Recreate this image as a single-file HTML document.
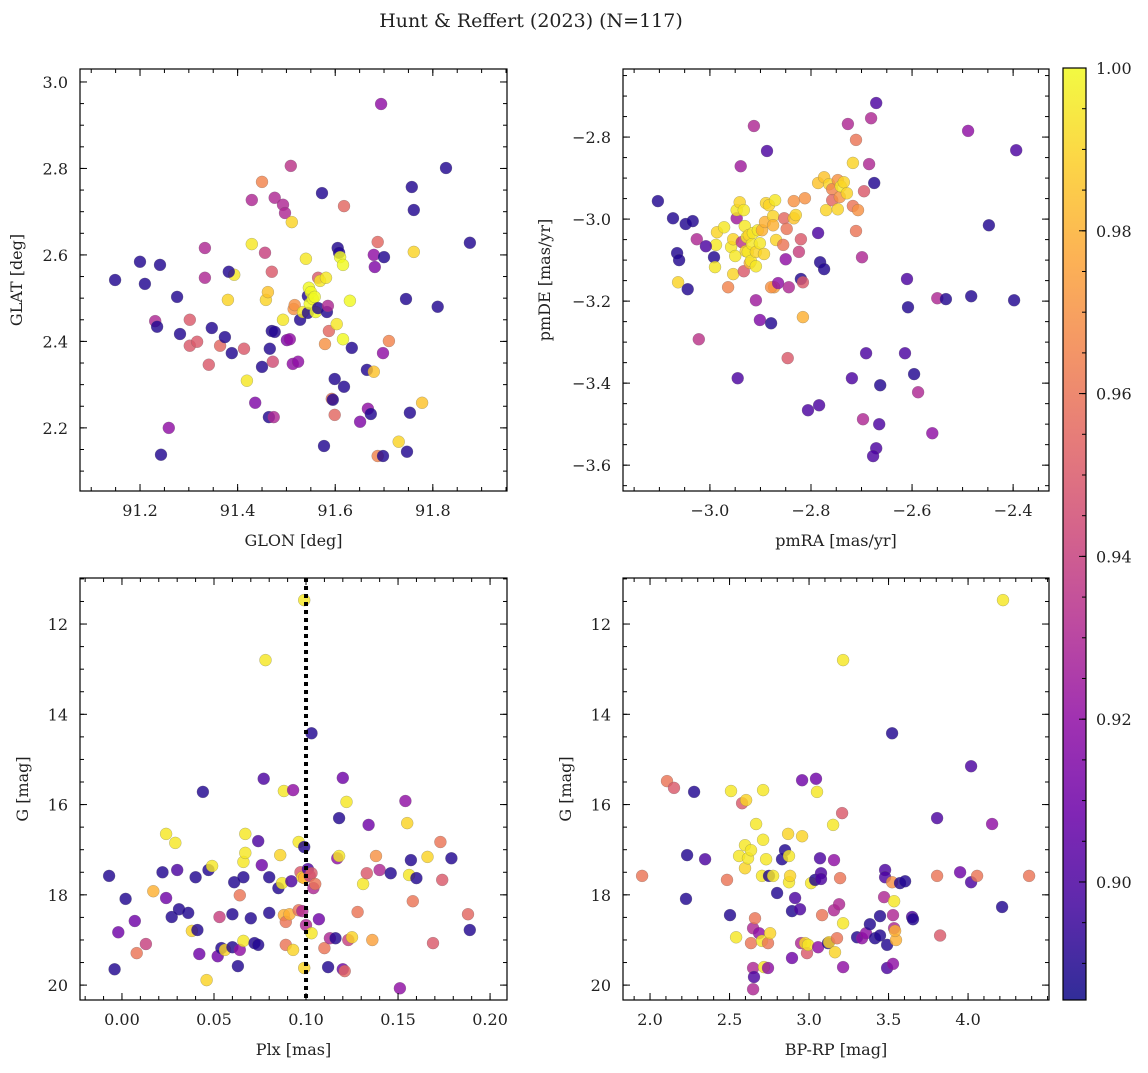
<!DOCTYPE html>
<html><head><meta charset="utf-8"><style>
body{margin:0;background:#fff;}
svg text{font-family:"DejaVu Serif","Liberation Serif",serif;fill:#222;}
</style></head><body>
<svg id="fig" width="1148" height="1068" viewBox="0 0 1148 1068">
<text x="531" y="27" text-anchor="middle" font-size="19">Hunt &amp; Reffert (2023) (N=117)</text>
</svg>
<script>
// ---- Panel 1: GLON / GLAT ----
const glonA=[91.149,91.200,91.210,91.241,91.231,91.235,91.243,91.259,91.276,91.282,91.302,91.302,91.317,91.333,91.333,91.341,91.347,91.364,91.374,91.380,91.388,91.393,91.382,91.413,91.419,91.429,91.429,91.436,91.450,91.450,91.456,91.458,91.462,91.464,91.466,91.470,91.470,91.472,91.474,91.476,91.476,91.493,91.497,91.493,91.501,91.507,91.509,91.511,91.513,91.515,91.517,91.524,91.528,91.534,91.540,91.544,91.544,91.546,91.548,91.550,91.554,91.558,91.560,91.565,91.565,91.569,91.573,91.577,91.579,91.581,91.583,91.585,91.587,91.593,91.595,91.599,91.599,91.603,91.605,91.608,91.610,91.616,91.616,91.618,91.618,91.630,91.634,91.651,91.665,91.667,91.673,91.679,91.681,91.679,91.687,91.687,91.698,91.698,91.700,91.694,91.710,91.730,91.745,91.753,91.747,91.757,91.761,91.778,91.761,91.810,91.827,91.876];
const glatA=[2.542,2.584,2.533,2.577,2.447,2.434,2.138,2.200,2.503,2.417,2.450,2.390,2.399,2.616,2.547,2.346,2.431,2.390,2.410,2.496,2.373,2.554,2.561,2.383,2.309,2.727,2.625,2.258,2.341,2.769,2.605,2.496,2.514,2.225,2.383,2.561,2.424,2.353,2.225,2.732,2.422,2.716,2.697,2.450,2.403,2.405,2.806,2.676,2.348,2.475,2.484,2.353,2.450,2.468,2.591,2.466,2.505,2.524,2.487,2.514,2.498,2.503,2.468,2.477,2.547,2.540,2.743,2.158,2.394,2.547,2.468,2.482,2.424,2.267,2.265,2.313,2.230,2.440,2.616,2.605,2.595,2.577,2.405,2.713,2.295,2.494,2.385,2.214,2.334,2.244,2.232,2.600,2.572,2.330,2.630,2.135,2.135,2.373,2.595,2.949,2.401,2.168,2.498,2.235,2.145,2.757,2.704,2.258,2.607,2.480,2.801,2.628];
const probA=[.89,.89,.89,.89,.93,.89,.89,.92,.89,.89,.95,.95,.95,.93,.93,.95,.89,.955,.89,.99,.89,.995,.89,.95,.995,.93,.995,.915,.89,.965,.94,.99,.985,.89,.89,.95,.89,.945,.93,.93,.89,.93,.93,.995,.915,.92,.935,.99,.92,.97,.97,.92,.89,.995,.995,.89,.89,1,1,1,1,1,1,.89,.95,.995,.89,.89,.97,.995,.89,.93,.955,.96,.89,.89,.955,.995,.89,.89,1,1,1,.955,.89,1,.89,.915,.89,.92,.89,.92,.915,.985,.955,.965,.89,.92,.89,.92,.965,.99,.89,.89,.89,.89,.89,.985,.99,.89,.89,.89];
// ---- Panel 2: pmRA / pmDE ----
const pmraB=[-3.103,-3.073,-3.048,-3.034,-3.065,-3.061,-3.063,-3.044,-3.026,-3.022,-2.992,-2.988,-3.008,-2.990,-2.986,-2.972,-2.964,-2.958,-2.954,-2.950,-2.954,-2.947,-2.947,-2.941,-2.939,-2.937,-2.933,-2.931,-2.945,-2.933,-2.929,-2.927,-2.925,-2.923,-2.921,-2.919,-2.917,-2.915,-2.909,-2.913,-2.909,-2.905,-2.909,-2.901,-2.897,-2.901,-2.893,-2.887,-2.889,-2.883,-2.891,-2.875,-2.873,-2.879,-2.879,-2.875,-2.869,-2.871,-2.865,-2.855,-2.853,-2.848,-2.850,-2.846,-2.844,-2.834,-2.834,-2.830,-2.824,-2.820,-2.820,-2.816,-2.816,-2.812,-2.806,-2.784,-2.786,-2.786,-2.782,-2.774,-2.774,-2.770,-2.764,-2.758,-2.758,-2.747,-2.747,-2.743,-2.741,-2.735,-2.729,-2.719,-2.717,-2.727,-2.717,-2.711,-2.711,-2.707,-2.699,-2.697,-2.695,-2.691,-2.685,-2.681,-2.675,-2.671,-2.671,-2.665,-2.663,-2.677,-2.614,-2.610,-2.608,-2.596,-2.588,-2.560,-2.550,-2.533,-2.489,-2.483,-2.448,-2.394,-2.398];
const pmdeB=[-2.956,-2.998,-3.012,-3.005,-3.083,-3.100,-3.154,-3.171,-3.049,-3.293,-3.093,-3.063,-3.066,-3.117,-3.032,-3.020,-3.166,-3.068,-3.049,-3.090,-3.134,-2.998,-2.978,-2.959,-2.871,-3.056,-2.978,-3.017,-3.388,-3.127,-3.078,-3.044,-3.080,-3.039,-3.107,-3.102,-3.061,-3.034,-3.115,-2.773,-3.080,-3.027,-3.198,-3.059,-3.027,-3.246,-3.085,-2.834,-2.961,-2.966,-3.007,-2.993,-3.166,-3.254,-3.166,-3.015,-3.051,-2.954,-3.156,-3.063,-2.998,-3.024,-3.098,-3.339,-3.166,-2.956,-2.998,-2.990,-3.080,-3.049,-3.146,-3.154,-3.239,-2.949,-3.466,-3.454,-2.912,-3.034,-3.105,-3.122,-2.898,-2.978,-2.915,-2.927,-2.954,-2.976,-2.905,-2.946,-2.920,-2.910,-2.937,-3.388,-2.968,-2.768,-2.863,-3.029,-2.807,-2.978,-3.093,-3.488,-2.932,-3.327,-2.866,-2.754,-2.912,-2.717,-3.559,-3.500,-3.405,-3.578,-3.327,-3.146,-3.215,-3.378,-3.422,-3.522,-3.193,-3.195,-2.785,-3.188,-3.015,-2.832,-3.198];
const probB=[.89,.89,.89,.89,.89,.89,.99,.89,.93,.935,.89,.995,.9,.995,.99,.995,.965,.995,.99,.995,.99,.925,.995,.99,.925,.935,.995,.995,.9,.95,.99,.995,.995,.99,.98,.995,.995,.995,.995,.93,.99,.995,.925,.995,.98,.915,.99,.9,.99,.99,.98,.99,.975,.89,.97,.98,.99,.995,.92,.96,.955,.96,.92,.95,.93,.97,.985,.99,.94,.95,.89,.95,.98,.97,.9,.9,.985,.9,.89,.89,.985,.99,.99,.965,.955,.99,.97,.97,.995,.99,.99,.9,.96,.93,.99,.96,.96,.97,.93,.93,.95,.9,.93,.93,.89,.9,.9,.9,.89,.9,.9,.9,.89,.89,.93,.92,.93,.89,.92,.89,.89,.9,.89];
// ---- Panel 3: Plx / G ----
const plxC=[-0.004,-0.007,-0.002,0.002,0.007,0.008,0.013,0.017,0.022,0.024,0.024,0.027,0.029,0.030,0.031,0.036,0.038,0.040,0.041,0.042,0.044,0.046,0.047,0.049,0.052,0.053,0.054,0.056,0.060,0.060,0.061,0.063,0.064,0.066,0.064,0.066,0.066,0.067,0.067,0.070,0.072,0.074,0.074,0.076,0.077,0.078,0.080,0.080,0.085,0.086,0.087,0.088,0.088,0.089,0.089,0.091,0.092,0.093,0.093,0.096,0.096,0.097,0.098,0.098,0.099,0.099,0.099,0.099,0.100,0.101,0.102,0.103,0.103,0.103,0.104,0.105,0.107,0.110,0.112,0.113,0.116,0.117,0.118,0.118,0.120,0.121,0.120,0.122,0.123,0.125,0.128,0.131,0.133,0.134,0.136,0.138,0.140,0.146,0.151,0.154,0.155,0.156,0.157,0.158,0.160,0.166,0.169,0.173,0.174,0.179,0.188,0.189];
const gC=[19.65,17.58,18.83,18.09,18.58,19.29,19.09,17.92,17.50,18.07,16.65,18.49,16.85,17.45,18.32,18.40,18.80,17.61,18.78,19.31,15.72,19.89,17.45,17.36,19.36,18.49,19.18,19.22,19.16,18.43,17.72,19.58,18.01,17.61,19.22,17.27,19.02,16.65,17.07,18.52,19.07,16.81,19.11,17.34,15.43,12.80,17.61,18.40,17.85,17.12,17.74,15.70,18.45,18.60,19.11,18.43,17.70,19.22,15.68,16.83,18.34,17.50,17.61,18.36,17.63,19.62,11.47,16.94,18.67,17.43,17.58,17.52,18.85,14.42,17.85,17.76,18.54,19.18,19.60,18.96,18.96,17.19,16.30,17.14,19.65,19.69,15.41,15.94,19.00,18.94,18.38,17.76,17.52,16.45,19.00,17.14,17.45,17.52,20.07,15.92,16.41,17.56,17.23,18.14,17.63,17.16,19.07,16.83,17.67,17.19,18.43,18.78];
const probC=[.89,.89,.91,.89,.91,.96,.94,.98,.89,.91,.995,.89,.995,.9,.89,.89,.99,.89,.89,.91,.89,.99,.89,.995,.91,.94,.89,.99,.89,.89,.89,.89,.96,.89,.92,.995,.995,.995,.995,.89,.89,.9,.89,.91,.9,.995,.89,.89,.89,.99,.995,.995,.98,.96,.96,.98,.9,.99,.92,.995,.96,.95,.99,.93,.98,.99,.995,.89,.93,.9,.94,.95,.995,.89,.93,.96,.91,.96,.89,.93,.89,.92,.89,.995,.91,.955,.91,.995,.94,.99,.96,.995,.95,.91,.975,.97,.93,.89,.92,.92,.99,.995,.89,.96,.89,.99,.95,.96,.95,.89,.955,.89];
// ---- Panel 4: BP-RP / G ----
const bprpD=[1.950,2.107,2.151,2.277,2.233,2.226,2.346,2.484,2.503,2.509,2.541,2.560,2.579,2.597,2.597,2.604,2.616,2.635,2.648,2.635,2.648,2.648,2.654,2.660,2.667,2.686,2.704,2.704,2.711,2.711,2.717,2.730,2.742,2.748,2.742,2.755,2.774,2.799,2.830,2.849,2.868,2.874,2.874,2.881,2.893,2.893,2.912,2.943,2.956,2.956,2.950,2.975,2.987,2.994,3.013,3.038,3.044,3.050,3.057,3.069,3.075,3.075,3.082,3.119,3.126,3.151,3.157,3.157,3.163,3.176,3.189,3.195,3.208,3.214,3.214,3.214,3.302,3.333,3.358,3.383,3.415,3.446,3.446,3.472,3.478,3.478,3.491,3.491,3.522,3.528,3.535,3.528,3.547,3.541,3.535,3.522,3.572,3.604,3.648,3.654,3.805,3.805,3.824,3.950,4.019,4.019,4.057,4.151,4.214,4.220,4.384];
const gD=[17.58,15.48,15.63,15.72,17.12,18.09,17.21,17.67,18.45,15.70,18.94,17.14,15.97,17.41,16.90,15.90,17.19,17.01,18.74,19.07,19.62,20.09,19.82,18.52,16.43,18.85,17.58,19.02,15.68,16.78,19.60,17.21,19.07,17.58,19.62,18.85,17.58,17.96,17.21,17.01,16.65,17.14,17.72,17.58,19.40,18.36,18.07,18.32,15.46,16.70,19.07,19.07,19.29,19.11,17.74,17.67,15.43,15.72,19.16,17.19,17.52,17.65,18.45,19.07,19.05,16.45,17.23,18.34,19.27,18.96,18.21,17.63,16.19,12.80,19.60,18.63,18.94,18.96,18.85,18.65,18.96,18.90,18.47,18.05,17.45,17.61,19.11,19.62,14.42,19.53,18.74,18.45,19.00,18.80,18.14,17.72,17.74,17.70,18.49,18.54,17.58,16.30,18.90,17.50,15.15,17.72,17.58,16.43,18.27,11.47,17.58];
const probD=[.96,.96,.95,.89,.89,.89,.9,.96,.89,.995,.995,.995,.95,.99,.995,.99,.995,.995,.93,.96,.93,.93,.9,.96,.995,.92,.995,.995,.995,.995,.995,.995,.96,.89,.92,.99,.995,.89,.89,.89,.99,.995,.995,.99,.91,.89,.9,.9,.91,.99,.93,.99,.95,.995,.995,.89,.91,.995,.92,.9,.9,.9,.96,.89,.99,.995,.92,.93,.99,.96,.93,.96,.95,.995,.92,.995,.89,.92,.92,.89,.89,.89,.89,.93,.9,.9,.89,.9,.89,.92,.93,.93,.98,.98,.995,.97,.89,.89,.9,.89,.96,.9,.95,.91,.9,.9,.96,.92,.89,.995,.96];
const cbTicks=[0.90,0.92,0.94,0.96,0.98,1.00];
const plxLine=[0.1];

const NS='http://www.w3.org/2000/svg';
const svg=document.getElementById('fig');
function mk(tag,attrs,parent){const e=document.createElementNS(NS,tag);for(const k in attrs)e.setAttribute(k,attrs[k]);(parent||svg).appendChild(e);return e;}
const stops=['#0d0887','#41049d','#6a00a8','#8f0da4','#b12a90','#cc4778','#e16462','#f2844b','#fca636','#fcce25','#f0f921'];
function hex(h){return [1,3,5].map(i=>parseInt(h.substr(i,2),16));}
const PMIN=0.8855,PMAX=1.0;
function cmap(p){let t=(p-PMIN)/(PMAX-PMIN);t=Math.max(0,Math.min(1,t));const s=t*10,i=Math.min(9,Math.floor(s)),f=s-i;const a=hex(stops[i]),b=hex(stops[i+1]);return 'rgb('+a.map((v,k)=>Math.round(v+(b[k]-v)*f)).join(',')+')';}

function panel(cfg){
  const {name,L,T,R,B,xmin,xmax,ymin,ymax,xinv,yinv}=cfg;
  const sx=v=>L+(v-xmin)/(xmax-xmin)*(R-L);
  const sy=v=>yinv? T+(v-ymin)/(ymax-ymin)*(B-T) : B-(v-ymin)/(ymax-ymin)*(B-T);
  const g=mk('g',{});
  
  
  const pts=mk('g',{},g);
  
  
  for(let i=0;i<cfg.xs.length;i++){
    const c=mk('circle',{cx:sx(cfg.xs[i]).toFixed(1),cy:sy(cfg.ys[i]).toFixed(1),r:6,fill:cmap(cfg.ps[i]),'fill-opacity':0.82,stroke:'#666','stroke-width':0.4,'stroke-opacity':0.6},pts);
    
    
  }
  if(cfg.vline){cfg.vline.forEach(v=>{const l=mk('line',{x1:sx(v),x2:sx(v),y1:T,y2:B,stroke:'#000','stroke-width':4,'stroke-dasharray':'4,4'},g);
    
    });}
  const fr=mk('rect',{x:L,y:T,width:R-L,height:B-T,fill:'none',stroke:'#000','stroke-width':1.2},g);
  
  
  const tk=mk('g',{stroke:'#000','stroke-width':1},g);
  const eps=1e-9;
  for(let v=Math.ceil((xmin)/cfg.xminor-eps)*cfg.xminor;v<=xmax+eps;v+=cfg.xminor){const x=sx(v);mk('line',{x1:x,x2:x,y1:B,y2:B-4},tk);mk('line',{x1:x,x2:x,y1:T,y2:T+4},tk);}
  for(let v=Math.ceil((ymin)/cfg.yminor-eps)*cfg.yminor;v<=ymax+eps;v+=cfg.yminor){const y=sy(v);mk('line',{x1:L,x2:L+4,y1:y,y2:y},tk);mk('line',{x1:R,x2:R-4,y1:y,y2:y},tk);}
  cfg.xt.forEach(v=>{const x=sx(v);mk('line',{x1:x,x2:x,y1:B,y2:B-7},tk);mk('line',{x1:x,x2:x,y1:T,y2:T+7},tk);
    const t=mk('text',{x:x,y:B+25,'text-anchor':'middle','font-size':16},g);t.textContent=(v<0?'\u2212':'')+Math.abs(v).toFixed(cfg.xd);
    });
  cfg.yt.forEach(v=>{const y=sy(v);mk('line',{x1:L,x2:L+7,y1:y,y2:y},tk);mk('line',{x1:R,x2:R-7,y1:y,y2:y},tk);
    const t=mk('text',{x:L-12,y:y+6,'text-anchor':'end','font-size':16},g);t.textContent=(v<0?'\u2212':'')+Math.abs(v).toFixed(cfg.yd);
    });
  const xl=mk('text',{x:(L+R)/2,y:B+55,'text-anchor':'middle','font-size':16},g);xl.textContent=cfg.xlabel;
  
  const yx=cfg.ylx;const yl=mk('text',{x:yx,y:(T+B)/2,'text-anchor':'middle','font-size':16,transform:'rotate(-90 '+yx+' '+(T+B)/2+')'},g);yl.textContent=cfg.ylabel;
  
}
panel({name:'glon-glat-panel',L:80,T:69,R:507,B:491,xmin:91.077,xmax:91.952,ymin:2.054,ymax:3.030,xs:glonA,ys:glatA,ps:probA,xt:[91.2,91.4,91.6,91.8],xd:1,yt:[2.2,2.4,2.6,2.8,3.0],yd:1,xminor:0.05,yminor:0.05,xlabel:'GLON [deg]',ylabel:'GLAT [deg]',ylx:22});
panel({name:'proper-motion-panel',L:623,T:69,R:1049,B:491,xmin:-3.172,xmax:-2.329,ymin:-3.663,ymax:-2.634,xs:pmraB,ys:pmdeB,ps:probB,xt:[-3.0,-2.8,-2.6,-2.4],xd:1,yt:[-3.6,-3.4,-3.2,-3.0,-2.8],yd:1,xminor:0.05,yminor:0.05,xlabel:'pmRA [mas/yr]',ylabel:'pmDE [mas/yr]',ylx:550});
panel({name:'plx-g-panel',L:80,T:578,R:507,B:1000,xmin:-0.0228,xmax:0.2092,ymin:10.98,ymax:20.33,yinv:true,xs:plxC,ys:gC,ps:probC,xt:[0,0.05,0.1,0.15,0.2],xd:2,yt:[12,14,16,18,20],yd:0,xminor:0.01,yminor:0.5,xlabel:'Plx [mas]',ylabel:'G [mag]',ylx:28,vline:plxLine});
panel({name:'cmd-panel',L:623,T:578,R:1049,B:1000,xmin:1.830,xmax:4.509,ymin:10.98,ymax:20.33,yinv:true,xs:bprpD,ys:gD,ps:probD,xt:[2.0,2.5,3.0,3.5,4.0],xd:1,yt:[12,14,16,18,20],yd:0,xminor:0.1,yminor:0.5,xlabel:'BP-RP [mag]',ylabel:'G [mag]',ylx:571});

// colorbar
const cb=mk('g',{});


const defs=mk('defs',{},cb);
const lg=mk('linearGradient',{id:'pl',x1:0,y1:1,x2:0,y2:0},defs);
stops.forEach((s,i)=>mk('stop',{offset:i/10,'stop-color':s,'stop-opacity':0.85},lg));
const CT=68,CB=1000,CL=1063,CR=1086;
const cy=v=>CB-(v-PMIN)/(PMAX-PMIN)*(CB-CT);
mk('rect',{x:CL,y:CT,width:CR-CL,height:CB-CT,fill:'url(#pl)',stroke:'#000','stroke-width':1.2},cb);
for(let v=0.89;v<=1.0001;v+=0.005){mk('line',{x1:CR,x2:CR-4,y1:cy(v),y2:cy(v),stroke:'#000'},cb);}
cbTicks.forEach(v=>{mk('line',{x1:CR,x2:CR-7,y1:cy(v),y2:cy(v),stroke:'#000'},cb);
  const t=mk('text',{x:CR+10,y:cy(v)+6,'font-size':16},cb);t.textContent=v.toFixed(2);
  });
</script>
</body></html>
